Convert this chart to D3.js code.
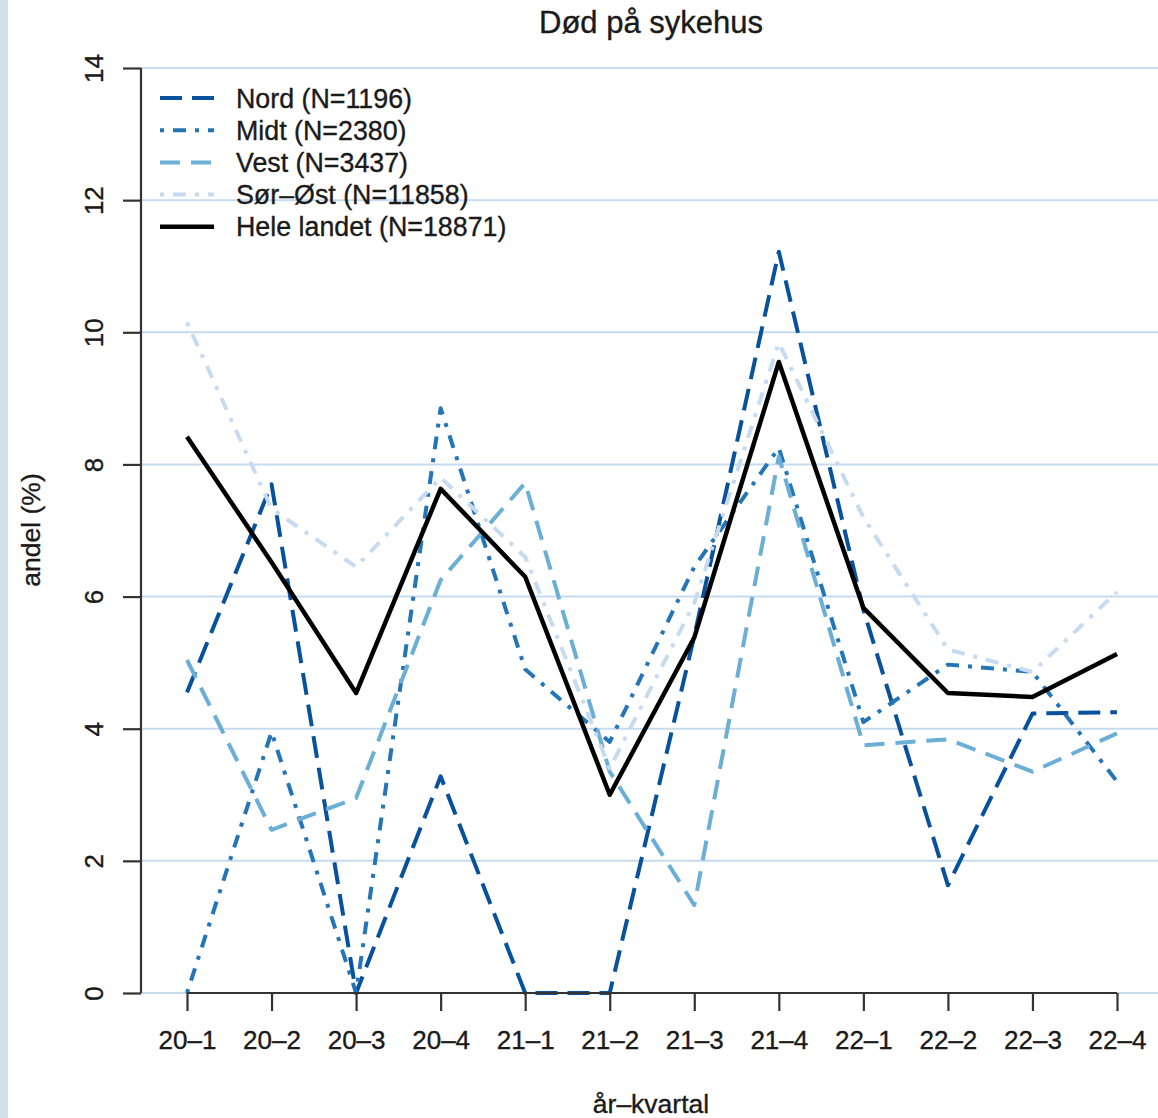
<!DOCTYPE html>
<html>
<head>
<meta charset="utf-8">
<script src="https://cdn.jsdelivr.net/npm/d3@7"></script>
<style>
  html, body { margin: 0; padding: 0; background: #ffffff; }
  svg { display: block; }
  text { font-family: "Liberation Sans", Arial, Helvetica, sans-serif; fill: #1a1a1a; stroke: #1a1a1a; stroke-width: 0.35px; }
</style>
</head>
<body>
<svg id="chart" width="1158" height="1118"></svg>
<script>
const categories = ["20–1","20–2","20–3","20–4","21–1","21–2","21–3","21–4","22–1","22–2","22–3","22–4"];
const yTicks = [0, 2, 4, 6, 8, 10, 12, 14];
const seriesNames = ["Nord (N=1196)", "Midt (N=2380)", "Vest (N=3437)", "Sør–Øst (N=11858)", "Hele landet (N=18871)"];
const nord   = [4.55, 7.70, 0.00, 3.28, 0.00, 0.00, 5.40, 11.22, 5.80, 1.63, 4.23, 4.25];
const midt   = [0.00, 3.95, 0.00, 8.85, 4.90, 3.80, 6.45, 8.25, 4.10, 4.97, 4.86, 3.20];
const vest   = [5.04, 2.47, 2.95, 6.25, 7.72, 3.35, 1.33, 8.12, 3.75, 3.84, 3.35, 3.93];
const sorost = [10.15, 7.33, 6.45, 7.80, 6.60, 3.40, 5.90, 9.84, 7.20, 5.20, 4.86, 6.07];
const hele   = [8.42, 6.52, 4.54, 7.63, 6.30, 3.00, 5.38, 9.55, 5.83, 4.54, 4.48, 5.13];

const seriesValues = [nord, midt, vest, sorost, hele];
const seriesColors = ["#08519c", "#2474b8", "#6baed6", "#c6dbef", "#000000"];
const seriesDash   = ["22,10", "4,9,13,9", "20,11", "4,9,13,9", null];
const seriesWidth  = [4, 4, 4, 4, 4.5];

const svg = d3.select("#chart");
const W = 1158, H = 1118;

// left strip
svg.append("rect").attr("x", 0).attr("y", 0).attr("width", 8).attr("height", H).attr("fill", "#cfe1e8");

const x = d3.scalePoint().domain(categories).range([187, 1117]);
const y = d3.scaleLinear().domain([0, 14]).range([993, 68]);
const plotLeft = 141, plotRight = W;

// gridlines
svg.append("g").selectAll("line").data(yTicks).join("line")
  .attr("x1", plotLeft).attr("x2", plotRight)
  .attr("y1", d => y(d)).attr("y2", d => y(d))
  .attr("stroke", "#c6dbef").attr("stroke-width", 2);

// series lines
const line = d3.line().x((d, i) => x(categories[i])).y(d => y(d));
seriesValues.forEach((vals, k) => {
  svg.append("path").datum(vals)
    .attr("d", line)
    .attr("fill", "none")
    .attr("stroke", seriesColors[k])
    .attr("stroke-width", seriesWidth[k])
    .attr("stroke-dasharray", seriesDash[k])
    .attr("stroke-linejoin", "round")
    .attr("stroke-linecap", "butt");
});

// y axis
const yAxis = d3.axisLeft(y).tickValues(yTicks).tickSize(18).tickPadding(0).tickFormat(d3.format("d"));
const gy = svg.append("g").attr("transform", `translate(${plotLeft},0)`).call(yAxis);
gy.select(".domain").attr("d", `M0,${y(14)}V${y(0)}`).attr("stroke", "#333").attr("stroke-width", 2.2);
gy.selectAll(".tick line").attr("stroke", "#333").attr("stroke-width", 2.2);
gy.selectAll(".tick text")
  .attr("x", 0).attr("dy", null).attr("y", 0)
  .attr("transform", "translate(-38,0) rotate(-90)")
  .attr("text-anchor", "middle")
  .style("font-size", "26px")
  .style("font-family", "'Liberation Sans', Arial, sans-serif")
  .attr("fill", "#1a1a1a");

// x axis
const xAxis = d3.axisBottom(x).tickSize(18).tickPadding(0);
const gx = svg.append("g").attr("transform", `translate(0,${y(0)})`).call(xAxis);
gx.select(".domain").attr("d", `M${x(categories[0])},0H${x(categories[categories.length - 1])}`).attr("stroke", "#333").attr("stroke-width", 2.2);
gx.selectAll(".tick line").attr("stroke", "#333").attr("stroke-width", 2.2);
gx.selectAll(".tick text")
  .attr("y", 56).attr("dy", null)
  .style("font-size", "26px")
  .style("font-family", "'Liberation Sans', Arial, sans-serif")
  .attr("fill", "#1a1a1a");

// title
svg.append("text").attr("x", 651).attr("y", 33).attr("text-anchor", "middle")
  .style("font-size", "31px").text("Død på sykehus");

// axis titles
svg.append("text").attr("x", 651).attr("y", 1113).attr("text-anchor", "middle")
  .style("font-size", "26.5px").text("år–kvartal");
svg.append("text").attr("transform", "translate(40,530) rotate(-90)").attr("text-anchor", "middle")
  .style("font-size", "26.5px").text("andel (%)");

// legend
const legend = svg.append("g");
seriesNames.forEach((name, k) => {
  const ly = 98 + k * 32.2;
  legend.append("line")
    .attr("x1", 160).attr("x2", 214).attr("y1", ly).attr("y2", ly)
    .attr("stroke", seriesColors[k]).attr("stroke-width", seriesWidth[k])
    .attr("stroke-dasharray", seriesDash[k]);
  legend.append("text").attr("x", 236).attr("y", ly + 9.5)
    .style("font-size", "26.8px").text(name);
});
</script>
</body>
</html>
